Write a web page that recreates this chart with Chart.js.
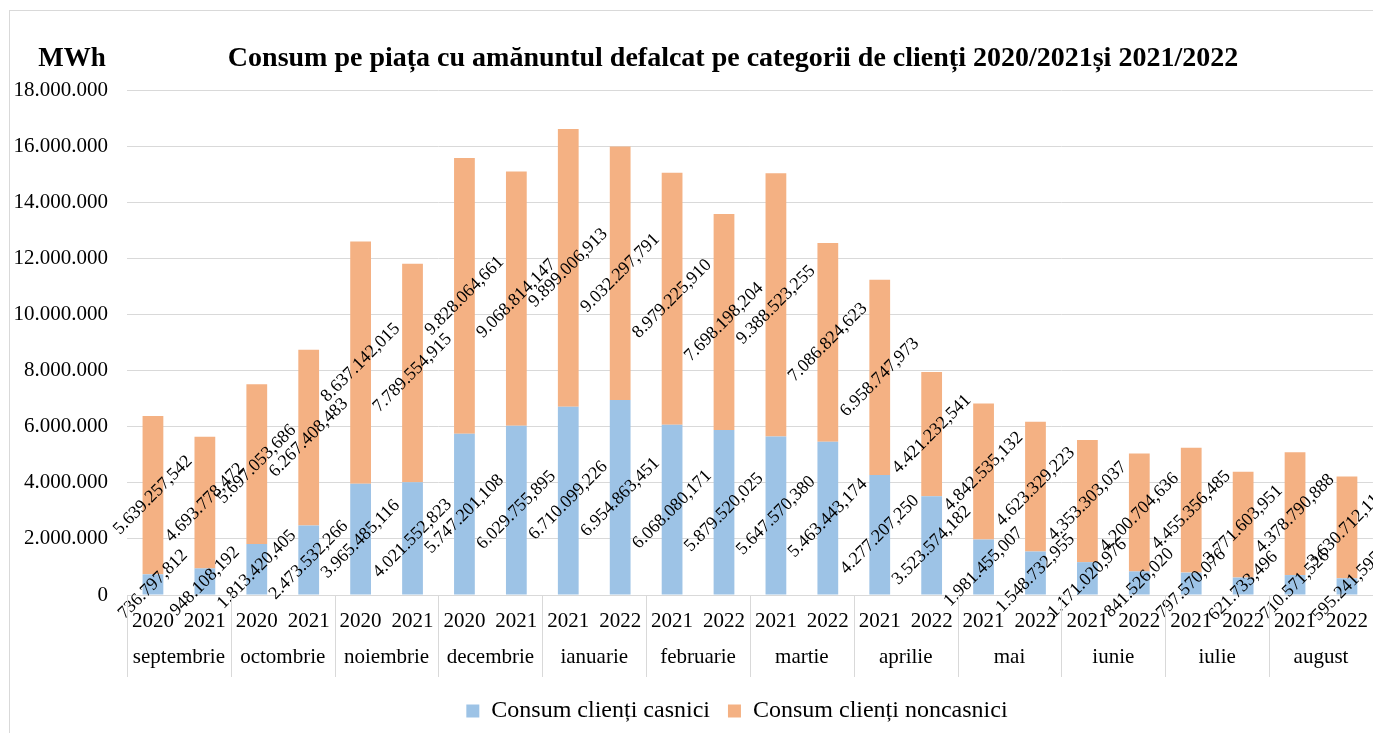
<!DOCTYPE html>
<html>
<head>
<meta charset="utf-8">
<script src="https://cdn.jsdelivr.net/npm/chart.js@4"></script>
<style>
  html, body { margin: 0; padding: 0; background: #fff; overflow: hidden; }
  .chart-box {
    position: absolute;
    left: 9px;
    top: 10px;
    width: 1372px;
    height: 722px;
    border: 1px solid #d9d9d9;
  }
</style>
</head>
<body>
<div class="chart-box"><canvas id="myCanvas"></canvas></div>
<script>
const months = ["septembrie", "octombrie", "noiembrie", "decembrie", "ianuarie", "februarie",
  "martie", "aprilie", "mai", "iunie", "iulie", "august"];
const years = ["2020", "2021", "2020", "2021", "2020", "2021", "2020", "2021",
  "2021", "2022", "2021", "2022", "2021", "2022", "2021", "2022",
  "2021", "2022", "2021", "2022", "2021", "2022", "2021", "2022"];
const casnici = [736797.812, 948108.192, 1813420.405, 2473532.266, 3965485.116, 4021552.823,
  5747201.108, 6029755.895, 6710099.226, 6954863.451, 6068080.171, 5879520.025,
  5647570.380, 5463443.174, 4277207.250, 3523574.182, 1981455.007, 1548732.955,
  1171020.976, 841526.020, 797570.076, 621733.496, 710571.526, 595241.595];
const noncasnici = [5639257.542, 4693778.472, 5697053.686, 6267408.483, 8637142.015, 7789554.915,
  9828064.661, 9068814.147, 9899006.913, 9032297.791, 8979225.910, 7698198.204,
  9388523.255, 7086824.623, 6958747.973, 4421232.541, 4842535.132, 4623329.223,
  4353303.037, 4200704.636, 4455356.485, 3771603.951, 4378790.888, 3630712.115];
const seriesNames = ["Consum clienți casnici", "Consum clienți noncasnici"];
const chartTitle = "Consum pe piața cu amănuntul defalcat pe categorii de clienți 2020/2021și 2021/2022";
const unitLabel = "MWh";

const serif = '"Liberation Serif", "Times New Roman", serif';

// 5639257.542 -> "5.639.257,542"
function groupThousands(intPart) {
  return intPart.replace(/\B(?=(\d{3})+(?!\d))/g, ".");
}
function formatValue(v) {
  const parts = v.toFixed(3).split(".");
  return groupThousands(parts[0]) + "," + parts[1];
}

const overlay = {
  id: "overlay",
  afterLayout(chart) {
    // legend sits a little left of the plot centre in the original
    chart.legend.left -= 13;
    chart.legend.right -= 13;
  },
  afterDatasetsDraw(chart) {
    const ctx = chart.ctx;
    ctx.save();
    ctx.font = "18px " + serif;
    ctx.fillStyle = "#000";
    ctx.textAlign = "center";
    ctx.textBaseline = "middle";
    chart.data.datasets.forEach((ds, i) => {
      chart.getDatasetMeta(i).data.forEach((bar, j) => {
        const y = (bar.y + bar.base) / 2;
        ctx.save();
        ctx.translate(bar.x, y);
        ctx.rotate(-Math.PI / 4);
        ctx.fillText(formatValue(ds.data[j]), 0, 0);
        ctx.restore();
      });
    });
    ctx.restore();
  },
  afterDraw(chart) {
    const ctx = chart.ctx;
    const xScale = chart.scales.x;
    const area = chart.chartArea;
    const step = (xScale.right - xScale.left) / years.length;

    ctx.save();
    // month group separators
    ctx.strokeStyle = "#d9d9d9";
    ctx.lineWidth = 1;
    for (let k = 0; k <= months.length; k++) {
      const x = Math.round(xScale.left + 2 * k * step) + 0.5;
      ctx.beginPath();
      ctx.moveTo(x, area.bottom);
      ctx.lineTo(x, area.bottom + 82);
      ctx.stroke();
    }
    // month names
    ctx.fillStyle = "#000";
    ctx.font = "21px " + serif;
    ctx.textAlign = "center";
    ctx.textBaseline = "middle";
    months.forEach((m, k) => {
      ctx.fillText(m, xScale.left + (2 * k + 1) * step, area.bottom + 62);
    });
    // title and unit
    ctx.font = "bold 28px " + serif;
    ctx.fillText(chartTitle, 723, 48);
    ctx.font = "bold 27px " + serif;
    ctx.fillText(unitLabel, 62, 48);
    ctx.restore();
  }
};

const data = {
  labels: years,
  datasets: [
    {
      label: seriesNames[0],
      data: casnici,
      backgroundColor: "#9dc3e6",
      barPercentage: 0.4,
      categoryPercentage: 1.0,
    },
    {
      label: seriesNames[1],
      data: noncasnici,
      backgroundColor: "#f4b183",
      barPercentage: 0.4,
      categoryPercentage: 1.0,
    },
  ],
};

const config = {
  type: "bar",
  data: data,
  options: {
    responsive: true,
    maintainAspectRatio: false,
    animation: false,
    layout: { padding: { top: 79, right: 2, left: 0, bottom: 0 } },
    scales: {
      x: {
        stacked: true,
        grid: { display: false, drawTicks: false },
        border: { display: true, color: "#d9d9d9", width: 1 },
        ticks: {
          color: "#000",
          font: { family: serif, size: 21 },
          padding: 14,
          maxRotation: 0,
          autoSkip: false,
        },
        afterFit(scale) { scale.height = 86; },
      },
      y: {
        stacked: true,
        min: 0,
        max: 18000000,
        grid: { color: "#d9d9d9", lineWidth: 1, drawTicks: false },
        border: { display: false },
        ticks: {
          stepSize: 2000000,
          color: "#000",
          font: { family: serif, size: 21 },
          padding: 19,
          callback: (v) => groupThousands(String(v)),
        },
        afterFit(scale) { scale.width = 117; },
      },
    },
    plugins: {
      title: { display: false },
      tooltip: { enabled: false },
      legend: {
        position: "bottom",
        fullSize: false,
        labels: {
          color: "#000",
          font: { family: serif, size: 24 },
          boxWidth: 13,
          boxHeight: 13,
          padding: 18,
        },
      },
    },
  },
  plugins: [overlay],
};

const myChart = new Chart(document.querySelector("#myCanvas"), config);
</script>
</body>
</html>
